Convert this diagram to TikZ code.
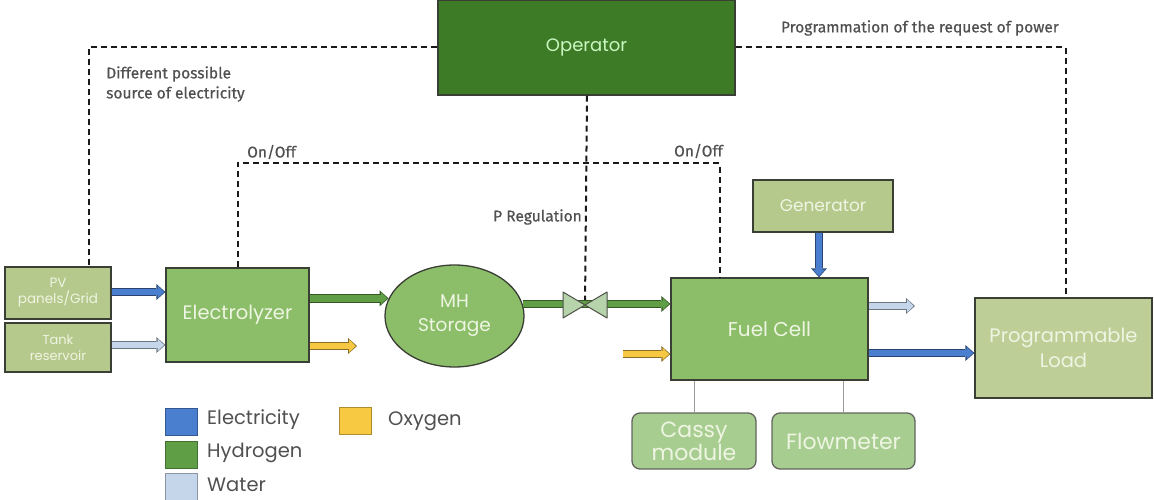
\documentclass[tikz,border=0pt]{standalone}
\usepackage{fontspec}
\setmainfont{Poppins}
\newfontfamily\lblfont[FakeBold=0.5]{Fira Sans}
\usetikzlibrary{arrows.meta,shapes.geometric,calc}
\definecolor{opgreen}{HTML}{3E7B27}
\definecolor{olive}{HTML}{B6C98C}
\definecolor{midgreen}{HTML}{8CBE6A}
\definecolor{lightgreen}{HTML}{A8CD90}
\definecolor{elecblue}{HTML}{4A7FD0}
\definecolor{hydgreen}{HTML}{5F9E44}
\definecolor{waterblue}{HTML}{C5D6EA}
\definecolor{oxyellow}{HTML}{F7C842}
\definecolor{boxtext}{HTML}{EEF5E2}
\definecolor{lbltext}{HTML}{505050}
\definecolor{borderc}{HTML}{3A3F35}
\tikzset{
  box/.style={draw=borderc, line width=1.3pt, align=center, text=boxtext, inner sep=0pt},
  olivebox/.style={box, fill=olive},
  greenbox/.style={box, fill=midgreen},
  roundbox/.style={box, fill=lightgreen, rounded corners=8pt, draw=borderc!80},
  ctrl/.style={draw=black!90, line width=2pt, dash pattern=on 6pt off 4pt},
  lbl/.style={font=\lblfont\fontsize{15.5}{20}\selectfont, text=lbltext, inner sep=0pt},
  flow/.style={line width=6.5pt, draw=#1, shorten >=1.3pt,
    -{Triangle[length=6.5pt,width=12.5pt,line width=0pt]},
    preaction={draw=#1!55!black, line width=8.5pt, shorten >=0pt,
      -{Triangle[length=9pt,width=16pt,line width=0pt]}}},
  legsq/.style={draw=#1!70!black, fill=#1, line width=1pt, minimum width=32pt, minimum height=27pt, inner sep=0pt},
  legtxt/.style={font=\fontsize{19.5}{22}\selectfont, text=lbltext, anchor=west, inner sep=0pt},
  thin/.style={draw=black!40, line width=1pt},
}
\begin{document}
\begin{tikzpicture}[x=1pt,y=-1pt]
\useasboundingbox (0,0) rectangle (1154,500);
% nodes
\node[box, fill=opgreen, minimum width=297pt, minimum height=95pt, text=boxtext!85!green, font=\fontsize{18}{21}\selectfont] (op) at (586.5,47.5) {Operator};
\node[olivebox, minimum width=106pt, minimum height=52pt, font=\fontsize{13.5}{16}\selectfont] (pv) at (58,293) {PV\\panels/Grid};
\node[olivebox, minimum width=106pt, minimum height=49pt, font=\fontsize{13}{16}\selectfont] (tank) at (58,347.5) {Tank\\reservoir};
\node[greenbox, minimum width=143pt, minimum height=94pt, font=\fontsize{19.5}{22}\selectfont] (elec) at (237.5,315) {Electrolyzer};
\node[ellipse, draw=borderc, line width=1.3pt, fill=midgreen, text=boxtext, minimum width=139pt, minimum height=102pt, inner sep=0pt, align=center, font=\fontsize{18.5}{24}\selectfont] (mh) at (454.5,316) {MH\\Storage};
\node[greenbox, minimum width=197pt, minimum height=102pt, font=\fontsize{20}{22}\selectfont] (fc) at (769.5,329) {Fuel Cell};
\node[olivebox, minimum width=140pt, minimum height=52pt, font=\fontsize{17}{19}\selectfont] (gen) at (823,206) {Generator};
\node[olivebox, fill=olive!90!white, minimum width=177pt, minimum height=100pt, font=\fontsize{19.5}{25}\selectfont] (load) at (1063.5,348) {Programmable\\Load};
\node[roundbox, minimum width=124pt, minimum height=56pt, font=\fontsize{22}{23}\selectfont] (cassy) at (694,441) {Cassy\\module};
\node[roundbox, minimum width=143pt, minimum height=56pt, font=\fontsize{22}{23}\selectfont] (flowm) at (843.5,441) {Flowmeter};
% free ends
\coordinate (o2out) at (357,346);
\coordinate (o2in) at (623,354);
\coordinate (h2oout) at (915,306);
\coordinate (valve) at (585,305);
\coordinate (j) at (587,163);
% control lines
\draw[ctrl] (op.west) -| ([xshift=31pt]pv.north);
\draw[ctrl] (op.east) -| ([xshift=2pt]load.north);
\draw[ctrl] (elec.north) |- (j) -| ([xshift=-50pt]fc.north);
\draw[ctrl] (op.south -| j) -- (valve);
% labels
\node[lbl, anchor=west, align=left] (lsrc) at (106,84) {Different possible\\source of electricity};
\node[lbl, anchor=west] (lon1) at (247,152) {On/Off};
\node[lbl, anchor=east] (lon2) at (723,151) {On/Off};
\node[lbl, anchor=east] (lpreg) at (582,217) {P Regulation};
\node[lbl, anchor=east] (lprog) at (1059,28) {Programmation of the request of power};
% flows
\draw[flow=elecblue] (pv.east |- 0,292) -- (elec.west |- 0,292);
\draw[flow=waterblue] (tank.east |- 0,345) -- (elec.west |- 0,345);
\draw[flow=hydgreen] (elec.east |- mh.165) -- (mh.165);
\draw[flow=oxyellow] (elec.east |- o2out) -- (o2out);
\draw[flow=hydgreen] (mh.10) -- (fc.west |- mh.10);
\draw[flow=oxyellow] (o2in) -- (fc.west |- o2in);
\draw[flow=waterblue] (fc.east |- h2oout) -- (h2oout);
\draw[flow=elecblue] (fc.east |- 0,353) -- (load.west |- 0,353);
\draw[flow=elecblue] ([xshift=-4pt]gen.south) -- ([xshift=-4pt]gen.south |- fc.north);
% valve
\draw[draw=borderc!90, fill=hydgreen!45!white, line width=1pt, line join=round]
  ($(valve)+(-22,-13)$) -- ($(valve)+(-22,13)$) -- (valve) -- cycle
  ($(valve)+(22,-13)$) -- ($(valve)+(22,13)$) -- (valve) -- cycle;
% thin links
\draw[thin] (cassy.north |- fc.south) -- (cassy.north);
\draw[thin] (flowm.north |- fc.south) -- (flowm.north);
% legend
\node[legsq=elecblue] (sq1) at (181,421.5) {};
\node[legsq=hydgreen] (sq2) at (181,454.5) {};
\node[legsq=waterblue] (sq3) at (181,487) {};
\node[legsq=oxyellow] (sq4) at (355,421) {};
\node[legtxt] (t1) at (207,420) {Electricity};
\node[legtxt] (t2) at (207,453) {Hydrogen};
\node[legtxt] (t3) at (207,485) {Water};
\node[legtxt] (t4) at (388,421) {Oxygen};
\end{tikzpicture}
\end{document}
